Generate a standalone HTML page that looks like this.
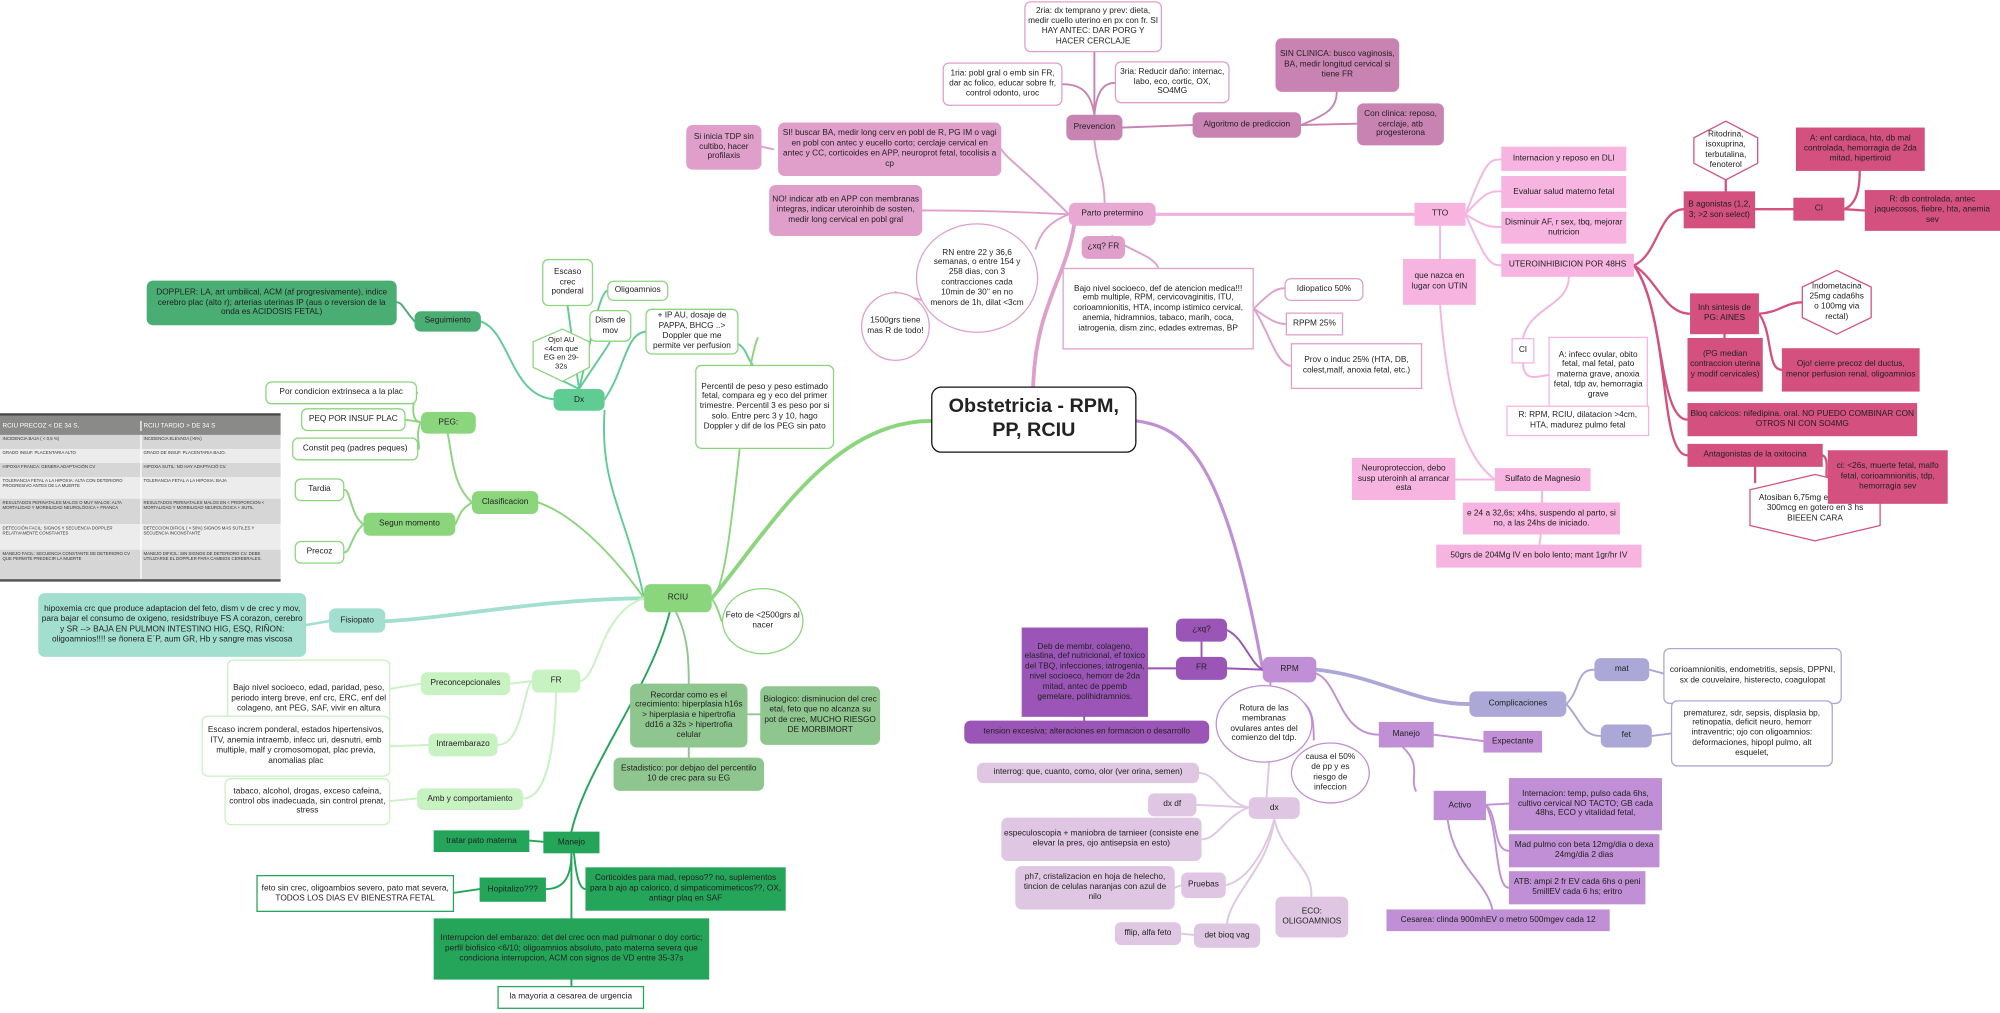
<!DOCTYPE html>
<html><head><meta charset="utf-8">
<style>
html,body{margin:0;padding:0;background:#fff;}
body{width:2000px;height:1012px;overflow:hidden;position:relative;}
#w{position:absolute;left:0;top:0;width:1568px;height:794px;transform:scale(1.27551);transform-origin:0 0;font-family:"Liberation Sans",sans-serif;}
.n{position:absolute;display:flex;align-items:center;justify-content:center;text-align:center;font-size:6.5px;line-height:1.2;box-sizing:border-box;padding:1px 2px;color:#222;border-radius:5px;overflow:hidden;}
.w{background:#fff;}
.sq{border-radius:0;}
.c{border-radius:50%;}
svg{position:absolute;left:0;top:0;}
.tb{position:absolute;left:0;top:324px;width:220px;border-top:2px solid #444;border-bottom:2px solid #555;font-size:3.4px;color:#333;}
.tb div{display:flex;}
.tb span{flex:1;padding:1px 2px;box-sizing:border-box;}
.tb span+span{border-left:1px solid #fff;}
</style></head><body><div id="w">
<svg width="1568" height="794" viewBox="0 0 1568 794" fill="none" stroke-linecap="round">
<path d="M810 303 C812 240 835 220 842 177" stroke="#e09fcb" stroke-width="3"/>
<path d="M891 330 C930 335 960 360 990 525" stroke="#c08fd5" stroke-width="2.5"/>
<path d="M730 330 C650 330 600 420 558 469" stroke="#8bd67c" stroke-width="3"/>
<g stroke="#e09fcb" stroke-width="1.5">
<path d="M858 110 C860 130 866 140 866 159"/>
<path d="M838 168 C800 130 790 125 785 117"/>
<path d="M838 168 C780 165 740 165 723 165"/>
<path d="M838 168 C820 175 815 185 812 195"/>
<path d="M606 117 L597 115"/>
<path d="M740 240 C725 235 705 232 702 229"/>
<path d="M872 185 C880 195 905 200 908 210"/>
<path d="M983 242 C995 230 1000 226 1007 226"/>
<path d="M983 242 C995 250 1000 254 1008 254"/>
<path d="M983 242 C995 260 1000 285 1012 287"/>
</g>
<path d="M906 168 L1109 168" stroke="#f1b1dd" stroke-width="2.5"/>
<g stroke="#c983b3" stroke-width="1.5">
<path d="M858 90 L858 41"/>
<path d="M858 90 C855 70 845 66 833 66"/>
<path d="M858 90 C860 70 866 65 874 65"/>
<path d="M880 100 L935 98"/>
<path d="M1020 98 C1040 90 1048 85 1048 72"/>
<path d="M1020 98 L1064 97"/>
</g>
<g stroke="#f7b4e0" stroke-width="1.5">
<path d="M1149 168 C1165 125 1168 125 1177 125"/>
<path d="M1149 168 C1165 150 1168 150 1177 150"/>
<path d="M1149 168 C1165 178 1168 178 1177 178"/>
<path d="M1149 168 C1165 205 1168 208 1177 208"/>
<path d="M1129 177 L1129 203"/>
<path d="M1129 239 C1135 320 1150 360 1172 376"/>
<path d="M1141 376 L1172 376"/>
<path d="M1209 385 L1209 394"/>
<path d="M1208 419 L1207 427"/>
<path d="M1230 217 C1230 240 1200 240 1194 265"/>
<path d="M1194 285 C1195 300 1205 295 1214 294"/>
<path d="M1253 324 L1253 318"/>
</g>
<g stroke="#d4507e" stroke-width="1.8">
<path d="M1281 208 C1300 200 1300 165 1320 164"/>
<path d="M1281 208 C1300 220 1305 246 1325 246"/>
<path d="M1281 208 C1305 240 1300 329 1323 329"/>
<path d="M1281 208 C1310 250 1300 357 1323 357"/>
<path d="M1353 150 L1353 140"/>
<path d="M1376 164 L1406 164"/>
<path d="M1446 164 C1455 160 1458 150 1458 134"/>
<path d="M1446 164 L1462 165"/>
<path d="M1379 246 C1395 245 1400 237 1413 237"/>
<path d="M1352 262 L1352 265"/>
<path d="M1379 246 C1390 260 1385 290 1397 290"/>
<path d="M1376 366 L1376 378"/>
<path d="M1429 357 C1435 360 1430 374 1433 374"/>
</g>
<g stroke="#9b55b6" stroke-width="1.5">
<path d="M962 494 C975 500 980 520 990 525"/>
<path d="M962 524 L990 525"/>
<path d="M942 503 L942 515"/>
<path d="M922 524 L900 524"/>
<path d="M850 562 L850 565"/>
</g>
<g stroke="#c08fd5" stroke-width="1.5">
<path d="M996 535 L996 537"/>
<path d="M1020 550 C1030 555 1030 570 1030 580"/>
<path d="M1032 528 C1050 535 1050 576 1081 576"/>
<path d="M1124 576 L1163 581"/>
<path d="M1100 586 C1115 600 1105 610 1110 620"/>
<path d="M1165 631 L1183 630"/>
<path d="M1165 631 C1175 640 1170 667 1183 667"/>
<path d="M1165 631 C1175 650 1172 696 1183 696"/>
<path d="M1135 643 C1140 680 1165 690 1170 713"/>
</g>
<path d="M1032 525 C1080 530 1110 552 1152 552" stroke="#aba7d6" stroke-width="3"/>
<g stroke="#aba7d6" stroke-width="1.5">
<path d="M1228 552 C1240 540 1235 525 1250 525"/>
<path d="M1228 552 C1240 565 1240 577 1255 577"/>
<path d="M1293 525 L1304 528"/>
<path d="M1295 577 L1310 575"/>
</g>
<g stroke="#dfc6e2" stroke-width="1.5">
<path d="M995 597 L993 625"/>
<path d="M979 633 C960 630 955 606 940 606"/>
<path d="M979 633 L938 631"/>
<path d="M979 633 C960 640 955 658 942 658"/>
<path d="M999 642 C995 660 980 690 961 694"/>
<path d="M926 694 L921 696"/>
<path d="M999 642 C995 680 965 700 962 724"/>
<path d="M936 733 L926 732"/>
<path d="M999 642 C1005 670 1030 680 1028 703"/>
</g>
<g stroke="#5fcc94" stroke-width="1.5">
<path d="M505 469 C490 400 470 380 474 322"/>
<path d="M434 313 C400 310 400 260 377 252"/>
<path d="M454 305 L445 240"/>
<path d="M454 305 C465 260 470 230 476 228"/>
<path d="M454 305 C470 280 478 270 478 268"/>
<path d="M454 305 L440 298"/>
<path d="M474 313 C490 290 490 262 506 260"/>
<path d="M574 268 C585 270 585 280 590 286"/>
</g>
<path d="M325 252 C315 240 315 237 311 237" stroke="#4aad74" stroke-width="1.5"/>
<g stroke="#8bd67c" stroke-width="1.5">
<path d="M505 469 C470 420 440 400 422 394"/>
<path d="M370 394 C355 380 355 360 351 340"/>
<path d="M370 394 C360 400 360 405 357 411"/>
<path d="M330 331 C320 331 325 308 327 308"/>
<path d="M330 331 L318 329"/>
<path d="M330 331 C325 340 330 352 328 352"/>
<path d="M285 411 C275 405 275 384 270 384"/>
<path d="M285 411 C275 420 275 433 270 433"/>
<path d="M558 469 C575 460 580 300 594 265"/>
<path d="M558 469 C565 480 565 487 566 487"/>
</g>
<path d="M505 469 C420 470 350 485 302 487" stroke="#a2dfcf" stroke-width="3"/>
<path d="M258 487 L240 490" stroke="#a2dfcf" stroke-width="2"/>
<g stroke="#c9f2c3" stroke-width="1.5">
<path d="M505 469 C470 480 470 530 455 534"/>
<path d="M417 534 L400 536"/>
<path d="M417 534 C410 540 410 584 390 584"/>
<path d="M436 543 C435 580 430 626 410 626"/>
<path d="M330 536 L306 540"/>
<path d="M336 584 L306 585"/>
<path d="M327 626 L306 628"/>
</g>
<g stroke="#8fc68f" stroke-width="1.5">
<path d="M530 480 C540 500 540 520 540 536"/>
<path d="M586 560 L596 560"/>
<path d="M540 586 L540 594"/>
</g>
<g stroke="#25a55a" stroke-width="1.5">
<path d="M525 480 C510 540 460 600 448 652"/>
<path d="M426 660 L415 659"/>
<path d="M448 669 C448 690 440 697 428 697"/>
<path d="M376 697 L356 700"/>
<path d="M450 669 C452 690 455 697 459 697"/>
<path d="M448 669 L448 720"/>
<path d="M448 768 L448 773"/>
</g>
</svg>

<div class="n" style="left:730px;top:303px;width:161px;height:52px;border:1.5px solid #111;border-radius:8px;background:#fff;font-size:15.5px;font-weight:bold;line-height:1.2;">Obstetricia - RPM,<br>PP, RCIU</div>

<div class="n w" style="left:803px;top:1px;width:108px;height:40px;border:1px solid #e09fcb;">2ria: dx temprano y prev: dieta, medir cuello uterino en px con fr. SI HAY ANTEC: DAR PORG Y HACER CERCLAJE</div>
<div class="n w" style="left:739px;top:49px;width:94px;height:34px;border:1px solid #e09fcb;">1ria: pobl gral o emb sin FR, dar ac folico, educar sobre fr, control odonto, uroc</div>
<div class="n w" style="left:874px;top:48px;width:90px;height:33px;border:1px solid #e09fcb;">3ria: Reducir daño: internac, labo, eco, cortic, OX, SO4MG</div>
<div class="n" style="left:836px;top:90px;width:44px;height:20px;background:#c983b3;">Prevencion</div>
<div class="n" style="left:935px;top:88px;width:85px;height:20px;background:#c983b3;">Algoritmo de prediccion</div>
<div class="n" style="left:1000px;top:30px;width:97px;height:42px;background:#c983b3;">SIN CLINICA: busco vaginosis, BA, medir longitud cervical si tiene FR</div>
<div class="n" style="left:1064px;top:81px;width:68px;height:33px;background:#c983b3;">Con clinica: reposo, cerclaje, atb progesterona</div>
<div class="n" style="left:538px;top:98px;width:59px;height:35px;background:#e09fcb;">Si inicia TDP sin cultibo, hacer profilaxis</div>
<div class="n" style="left:610px;top:96px;width:175px;height:42px;background:#e09fcb;">SI! buscar BA, medir long cerv en pobl de R, PG IM o vagi en pobl con antec y eucello corto; cerclaje cervical en antec y CC, corticoides en APP, neuroprot fetal, tocolisis a cp</div>
<div class="n" style="left:603px;top:145px;width:120px;height:40px;background:#e09fcb;">NO! indicar atb en APP con membranas integras, indicar uteroinhib de sosten, medir long cervical en pobl gral</div>
<div class="n" style="left:838px;top:159px;width:68px;height:18px;background:#e8a8d4;">Parto pretermino</div>
<div class="n" style="left:848px;top:185px;width:34px;height:18px;background:#e09fcb;">¿xq? FR</div>
<div class="n w c" style="left:718px;top:175px;width:96px;height:86px;border:1px solid #e09fcb;padding:4px 10px;">RN entre 22 y 36,6 semanas, o entre 154 y 258 dias, con 3 contracciones cada 10min de 30'' en no menors de 1h, dilat &lt;3cm</div>
<div class="n w c" style="left:675px;top:229px;width:54px;height:54px;border:1px solid #e09fcb;">1500grs tiene mas R de todo!</div>
<div class="n w sq" style="left:833px;top:210px;width:150px;height:64px;border:1px solid #e09fcb;">Bajo nivel socioeco, def de atencion medica!!! emb multiple, RPM, cervicovaginitis, ITU, corioamnionitis, HTA, incomp istimico cervical, anemia, hidramnios, tabaco, marih, coca, iatrogenia, dism zinc, edades extremas, BP</div>
<div class="n w" style="left:1007px;top:218px;width:62px;height:18px;border:1px solid #e09fcb;">Idiopatico 50%</div>
<div class="n w sq" style="left:1008px;top:245px;width:45px;height:18px;border:1px solid #e09fcb;">RPPM 25%</div>
<div class="n w sq" style="left:1012px;top:269px;width:103px;height:36px;border:1px solid #e09fcb;">Prov o induc 25% (HTA, DB, colest,malf, anoxia fetal, etc.)</div>

<div class="n sq" style="left:1109px;top:159px;width:40px;height:18px;background:#f7b4e0;">TTO</div>
<div class="n sq" style="left:1100px;top:203px;width:57px;height:36px;background:#f7b4e0;">que nazca en lugar con UTIN</div>
<div class="n sq" style="left:1177px;top:115px;width:98px;height:19px;background:#f7b4e0;">Internacion y reposo en DLI</div>
<div class="n sq" style="left:1177px;top:138px;width:98px;height:25px;background:#f7b4e0;">Evaluar salud materno fetal</div>
<div class="n sq" style="left:1177px;top:166px;width:98px;height:25px;background:#f7b4e0;">Disminuir AF, r sex, tbq, mejorar nutricion</div>
<div class="n sq" style="left:1177px;top:199px;width:104px;height:18px;background:#f7b4e0;">UTEROINHIBICION POR 48HS</div>
<div class="n w sq" style="left:1185px;top:265px;width:18px;height:20px;border:1px solid #f7b4e0;">CI</div>
<div class="n w sq" style="left:1214px;top:264px;width:78px;height:60px;border:1px solid #f7b4e0;">A: infecc ovular, obito fetal, mal fetal, pato materna grave, anoxia fetal, tdp av, hemorragia grave</div>
<div class="n w sq" style="left:1181px;top:318px;width:112px;height:24px;border:1px solid #f7b4e0;">R: RPM, RCIU, dilatacion &gt;4cm, HTA, madurez pulmo fetal</div>
<div class="n sq" style="left:1172px;top:367px;width:75px;height:18px;background:#f7b4e0;">Sulfato de Magnesio</div>
<div class="n sq" style="left:1060px;top:359px;width:81px;height:33px;background:#f7b4e0;">Neuroproteccion, debo susp uteroinh al arrancar esta</div>
<div class="n sq" style="left:1147px;top:394px;width:123px;height:25px;background:#f7b4e0;">e 24 a 32,6s; x4hs, suspendo al parto, si no, a las 24hs de iniciado.</div>
<div class="n sq" style="left:1126px;top:427px;width:161px;height:18px;background:#f7b4e0;">50grs de 204Mg IV en bolo lento; mant 1gr/hr IV</div>

<div class="n sq" style="left:1320px;top:150px;width:56px;height:29px;background:#d4507e;">B agonistas (1,2, 3; &gt;2 son select)</div>
<svg width="1568" height="794"><polygon points="1353,95 1378,108 1378,128 1353,141 1328,128 1328,108" fill="#fff" stroke="#d4507e" stroke-width="1"/>
<polygon points="1440,212 1467,225 1467,249 1440,262 1413,249 1413,225" fill="#fff" stroke="#d4507e" stroke-width="1"/>
<polygon points="1372,384 1423,372 1474,384 1474,412 1423,424 1372,412" fill="#fff" stroke="#d4507e" stroke-width="1"/>
<polygon points="441,258 462,268 462,288 441,299 418,288 418,268" fill="#fff" stroke="#8bd67c" stroke-width="1"/></svg>
<div class="n" style="left:1328px;top:98px;width:50px;height:40px;">Ritodrina, isoxuprina, terbutalina, fenoterol</div>
<div class="n sq" style="left:1408px;top:100px;width:101px;height:34px;background:#d4507e;">A: enf cardiaca, hta, db mal controlada, hemorragia de 2da mitad, hipertiroid</div>
<div class="n sq" style="left:1406px;top:155px;width:40px;height:18px;background:#d4507e;">CI</div>
<div class="n sq" style="left:1462px;top:149px;width:106px;height:32px;background:#d4507e;">R: db controlada, antec jaquecosos, fiebre, hta, anemia sev</div>
<div class="n sq" style="left:1325px;top:230px;width:54px;height:32px;background:#d4507e;">Inh sintesis de PG: AINES</div>
<div class="n" style="left:1416px;top:218px;width:48px;height:38px;">Indometacina 25mg cada6hs o 100mg via rectal)</div>
<div class="n sq" style="left:1323px;top:265px;width:59px;height:42px;background:#d4507e;">(PG median contraccion uterina y modif cervicales)</div>
<div class="n sq" style="left:1397px;top:273px;width:108px;height:34px;background:#d4507e;">Ojo! cierre precoz del ductus, menor perfusion renal, oligoamnios</div>
<div class="n sq" style="left:1323px;top:316px;width:180px;height:26px;background:#d4507e;">Bloq calcicos: nifedipina. oral. NO PUEDO COMBINAR CON OTROS NI CON SO4MG</div>
<div class="n sq" style="left:1323px;top:348px;width:106px;height:18px;background:#d4507e;">Antagonistas de la oxitocina</div>
<div class="n" style="left:1376px;top:384px;width:94px;height:30px;">Atosiban 6,75mg en bolo EV + 300mcg en gotero en 3 hs BIEEEN CARA</div>
<div class="n sq" style="left:1433px;top:353px;width:94px;height:42px;background:#d4507e;z-index:2;">ci: &lt;26s, muerte fetal, malfo fetal, corioamnionitis, tdp, hemorragia sev</div>

<div class="n" style="left:990px;top:515px;width:42px;height:20px;background:#c08fd5;">RPM</div>
<div class="n" style="left:922px;top:485px;width:40px;height:18px;background:#9b55b6;">¿xq?</div>
<div class="n" style="left:922px;top:515px;width:40px;height:18px;background:#9b55b6;">FR</div>
<div class="n sq" style="left:801px;top:492px;width:99px;height:70px;background:#9b55b6;">Deb de membr, colageno, elastina, def nutricional, ef toxico del TBQ, infecciones, iatrogenia, nivel socioeco, hemorr de 2da mitad, antec de ppemb gemelare, polihidramnios.</div>
<div class="n" style="left:756px;top:565px;width:192px;height:18px;background:#9b55b6;">tension excesiva; alteraciones en formacion o desarrollo</div>
<div class="n w c" style="left:953px;top:537px;width:76px;height:61px;border:1px solid #c08fd5;padding:3px 8px;">Rotura de las membranas ovulares antes del comienzo del tdp.</div>
<div class="n w c" style="left:1012px;top:582px;width:62px;height:48px;border:1px solid #c08fd5;padding:3px 8px;">causa el 50% de pp y es riesgo de infeccion</div>
<div class="n" style="left:979px;top:625px;width:40px;height:17px;background:#dfc6e2;">dx</div>
<div class="n" style="left:766px;top:598px;width:174px;height:16px;background:#dfc6e2;">interrog: que, cuanto, como, olor (ver orina, semen)</div>
<div class="n" style="left:900px;top:622px;width:38px;height:18px;background:#dfc6e2;">dx df</div>
<div class="n" style="left:785px;top:641px;width:157px;height:34px;background:#dfc6e2;">especuloscopia + maniobra de tarnieer (consiste ene elevar la pres, ojo antisepsia en esto)</div>
<div class="n" style="left:796px;top:679px;width:125px;height:34px;background:#dfc6e2;">ph7, cristalizacion en hoja de helecho, tincion de celulas naranjas con azul de nilo</div>
<div class="n" style="left:926px;top:684px;width:35px;height:20px;background:#dfc6e2;">Pruebas</div>
<div class="n" style="left:874px;top:723px;width:52px;height:18px;background:#dfc6e2;">fflip, alfa feto</div>
<div class="n" style="left:936px;top:724px;width:52px;height:19px;background:#dfc6e2;">det bioq vag</div>
<div class="n" style="left:1000px;top:703px;width:57px;height:32px;background:#dfc6e2;">ECO: OLIGOAMNIOS</div>
<div class="n" style="left:1152px;top:542px;width:76px;height:20px;background:#aba7d6;">Complicaciones</div>
<div class="n" style="left:1250px;top:516px;width:43px;height:18px;background:#aba7d6;">mat</div>
<div class="n w" style="left:1304px;top:508px;width:140px;height:44px;border:1px solid #aba7d6;">corioamnionitis, endometritis, sepsis, DPPNI, sx de couvelaire, histerecto, coagulopat</div>
<div class="n" style="left:1255px;top:568px;width:40px;height:18px;background:#aba7d6;">fet</div>
<div class="n w" style="left:1310px;top:549px;width:127px;height:52px;border:1px solid #aba7d6;">prematurez, sdr, sepsis, displasia bp, retinopatia, deficit neuro, hemorr intraventric; ojo con oligoamnios: deformaciones, hipopl pulmo, alt esquelet,</div>
<div class="n sq" style="left:1081px;top:566px;width:43px;height:20px;background:#c08fd5;">Manejo</div>
<div class="n sq" style="left:1163px;top:573px;width:46px;height:17px;background:#c08fd5;">Expectante</div>
<div class="n sq" style="left:1124px;top:620px;width:41px;height:23px;background:#c08fd5;">Activo</div>
<div class="n sq" style="left:1183px;top:610px;width:120px;height:41px;background:#c08fd5;">Internacion: temp, pulso cada 6hs, cultivo cervical NO TACTO; GB cada 48hs, ECO y vitalidad fetal,</div>
<div class="n sq" style="left:1183px;top:654px;width:118px;height:26px;background:#c08fd5;">Mad pulmo con beta 12mg/dia o dexa 24mg/dia 2 dias</div>
<div class="n sq" style="left:1183px;top:683px;width:107px;height:26px;background:#c08fd5;">ATB: ampi 2 fr EV cada 6hs o peni 5millEV cada 6 hs; eritro</div>
<div class="n sq" style="left:1087px;top:713px;width:175px;height:17px;background:#c08fd5;">Cesarea: clinda 900mhEV o metro 500mgev cada 12</div>

<div class="n" style="left:505px;top:458px;width:53px;height:22px;background:#8bd67c;">RCIU</div>
<div class="n w c" style="left:566px;top:461px;width:64px;height:52px;border:1px solid #8bd67c;">Feto de &lt;2500grs al nacer</div>
<div class="n" style="left:434px;top:305px;width:40px;height:17px;background:#5fcc94;">Dx</div>
<div class="n" style="left:325px;top:244px;width:52px;height:16px;background:#4aad74;">Seguimiento</div>
<div class="n" style="left:115px;top:220px;width:196px;height:35px;background:#4aad74;">DOPPLER: LA, art umbilical, ACM (af progresivamente), indice cerebro plac (alto r); arterias uterinas IP (aus o reversion de la onda es ACIDOSIS FETAL)</div>
<div class="n w" style="left:425px;top:203px;width:40px;height:37px;border:1px solid #8bd67c;">Escaso crec ponderal</div>
<div class="n w" style="left:476px;top:220px;width:48px;height:16px;border:1px solid #8bd67c;">Oligoamnios</div>
<div class="n w" style="left:462px;top:243px;width:33px;height:25px;border:1px solid #8bd67c;">Dism de mov</div>
<div class="n" style="left:421px;top:264px;width:38px;height:28px;font-size:6px;">Ojo! AU &lt;4cm que EG en 29-32s</div>
<div class="n w" style="left:506px;top:242px;width:73px;height:36px;border:1px solid #8bd67c;">+ IP AU, dosaje de PAPPA, BHCG ..&gt; Doppler que me permite ver perfusion</div>
<div class="n w" style="left:545px;top:286px;width:109px;height:66px;border:1px solid #8bd67c;">Percentil de peso y peso estimado fetal, compara eg y eco del primer trimestre. Percentil 3 es peso por si solo. Entre perc 3 y 10, hago Doppler y dif de los PEG sin pato</div>
<div class="n" style="left:330px;top:323px;width:43px;height:17px;background:#8bd67c;">PEG:</div>
<div class="n w" style="left:208px;top:299px;width:119px;height:18px;border:1px solid #8bd67c;">Por condicion extrinseca a la plac</div>
<div class="n w" style="left:236px;top:320px;width:82px;height:18px;border:1px solid #8bd67c;">PEQ POR INSUF PLAC</div>
<div class="n w" style="left:229px;top:343px;width:99px;height:18px;border:1px solid #8bd67c;">Constit peq (padres peques)</div>
<div class="n" style="left:370px;top:385px;width:52px;height:18px;background:#8bd67c;">Clasificacion</div>
<div class="n" style="left:285px;top:402px;width:72px;height:18px;background:#8bd67c;">Segun momento</div>
<div class="n w" style="left:231px;top:375px;width:39px;height:18px;border:1px solid #8bd67c;">Tardia</div>
<div class="n w" style="left:231px;top:424px;width:39px;height:18px;border:1px solid #8bd67c;">Precoz</div>
<div class="tb">
<div style="background:#8a8a88;color:#fff;font-size:5px;height:15px;align-items:center;"><span>RCIU PRECOZ &lt; DE 34 S.</span><span>RCIU TARDIO &gt; DE 34 S</span></div>
<div style="background:#d6d6d6;height:11px;"><span>INCIDENCIA BAJA ( &lt; 0,5 %)</span><span>INCIDENCIA ELEVADA (&gt;5%)</span></div>
<div style="background:#ececec;height:11px;"><span>GRADO INSUF. PLACENTARIA ALTO</span><span>GRADO DE INSUF. PLACENTARIA BAJO.</span></div>
<div style="background:#d6d6d6;height:11px;"><span>HIPOXIA FRANCA: GENERA ADAPTACIÓN CV</span><span>HIPOXIA SUTIL: NO HAY ADAPTACIÓ CV.</span></div>
<div style="background:#ececec;height:17px;"><span>TOLERANCIA FETAL A LA HIPOXIA: ALTA CON DETERIORO PROGRESIVO ANTES DE LA MUERTE</span><span>TOLERANCIA FETAL A LA HIPOXIA: BAJA</span></div>
<div style="background:#d6d6d6;height:20px;"><span>RESULTADOS PERINATALES MALOS O MUY MALOS: ALTA MORTALIDAD Y MORBILIDAD NEUROLÓGICA + FRANCA</span><span>RESULTADOS PERINATALES MALOS EN &lt; PROPORCION &lt; MORTALIDAD Y MORBILIDAD NEUROLÓGICA + SUTIL</span></div>
<div style="background:#ececec;height:20px;"><span>DETECCIÓN FACIL: SIGNOS Y SECUENCIA DOPPLER RELATIVAMENTE CONSTANTES</span><span>DETECCION DIFICIL ( &lt; 50%) SIGNOS MAS SUTILES Y SECUENCIA INCONSTANTE</span></div>
<div style="background:#d6d6d6;height:23px;"><span>MANEJO FACIL: SECUENCIA CONSTANTE DE DETERIORO CV QUE PERMITE PREDECIR LA MUERTE</span><span>MANEJO DIFICIL: SIN SIGNOS DE DETERIORO CV. DEBE UTILIZARSE EL DOPPLER PARA CAMBIOS CEREBRALES.</span></div>
</div>
<div class="n" style="left:258px;top:477px;width:44px;height:19px;background:#a2dfcf;">Fisiopato</div>
<div class="n" style="left:30px;top:465px;width:210px;height:50px;background:#a2dfcf;">hipoxemia crc que produce adaptacion del feto, dism v de crec y mov, para bajar el consumo de oxigeno, residstribuye FS A corazon, cerebro y SR --&gt; BAJA EN PULMON INTESTINO HIG, ESQ, RIÑON: oligoamnios!!!! se ñonera E´P, aum GR, Hb y sangre mas viscosa</div>
<div class="n" style="left:417px;top:525px;width:38px;height:18px;background:#c9f2c3;">FR</div>
<div class="n" style="left:330px;top:527px;width:70px;height:18px;background:#c9f2c3;">Preconcepcionales</div>
<div class="n w" style="left:178px;top:517px;width:128px;height:62px;border:1px solid #c9f2c3;">Bajo nivel socioeco, edad, paridad, peso, periodo interg breve, enf crc, ERC, enf del colageno, ant PEG, SAF, vivir en altura</div>
<div class="n" style="left:336px;top:575px;width:54px;height:18px;background:#c9f2c3;">Intraembarazo</div>
<div class="n w" style="left:158px;top:561px;width:148px;height:48px;border:1px solid #c9f2c3;">Escaso increm ponderal, estados hipertensivos, ITV, anemia intraemb, infecc uri, desnutri, emb multiple, malf y cromosomopat, plac previa, anomalias plac</div>
<div class="n" style="left:327px;top:618px;width:83px;height:17px;background:#c9f2c3;">Amb y comportamiento</div>
<div class="n w" style="left:176px;top:610px;width:130px;height:37px;border:1px solid #c9f2c3;">tabaco, alcohol, drogas, exceso cafeina, control obs inadecuada, sin control prenat, stress</div>
<div class="n" style="left:494px;top:536px;width:92px;height:50px;background:#8fc68f;">Recordar como es el crecimiento: hiperplasia h16s &gt; hiperplasia e hipertrofia dd16 a 32s &gt; hipertrofia celular</div>
<div class="n" style="left:596px;top:538px;width:94px;height:46px;background:#8fc68f;">Biologico: disminucion del crec etal, feto que no alcanza su pot de crec, MUCHO RIESGO DE MORBIMORT</div>
<div class="n" style="left:481px;top:594px;width:118px;height:26px;background:#8fc68f;">Estadistico: por debjao del percentilo 10 de crec para su EG</div>
<div class="n sq" style="left:426px;top:652px;width:44px;height:17px;background:#25a55a;">Manejo</div>
<div class="n sq" style="left:340px;top:651px;width:75px;height:17px;background:#25a55a;">tratar pato materna</div>
<div class="n sq" style="left:376px;top:688px;width:52px;height:19px;background:#25a55a;">Hopitalizo???</div>
<div class="n w sq" style="left:201px;top:686px;width:155px;height:29px;border:1px solid #25a55a;">feto sin crec, oligoambios severo, pato mat severa, TODOS LOS DIAS EV BIENESTRA FETAL</div>
<div class="n sq" style="left:459px;top:680px;width:157px;height:34px;background:#25a55a;">Corticoides para mad, reposo?? no, suplementos para b ajo ap calorico, d simpaticomimeticos??, OX, antiagr plaq en SAF</div>
<div class="n sq" style="left:340px;top:720px;width:216px;height:48px;background:#25a55a;">Interrupcion del embarazo: det del crec ocn mad pulmonar o doy cortic; perfil biofisico &lt;6/10; oligoamnios absoluto, pato materna severa que condiciona interrupcion, ACM con signos de VD entre 35-37s</div>
<div class="n w sq" style="left:390px;top:773px;width:115px;height:18px;border:1px solid #25a55a;">la mayoria a cesarea de urgencia</div>
</div></body></html>
